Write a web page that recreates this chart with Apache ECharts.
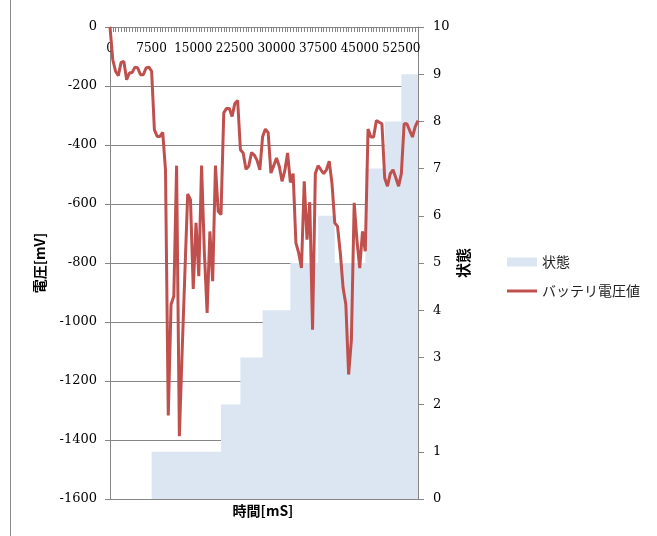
<!DOCTYPE html>
<html>
<head>
<meta charset="utf-8">
<script src="https://cdn.jsdelivr.net/npm/echarts@6.0.0/dist/echarts.min.js"></script>
<style>
html,body{margin:0;padding:0;background:#fff;}
#chart{width:657px;height:536px;}
</style>
</head>
<body>
<div id="chart"></div>
<script>
// time categories [mS]
const times = [
  0,500,1000,1500,2000,2500,3000,3500,4000,4500,
  5000,5500,6000,6500,7000,7500,8000,8500,9000,9500,
  10000,10500,11000,11500,12000,12500,13000,13500,14000,14500,
  15000,15500,16000,16500,17000,17500,18000,18500,19000,19500,
  20000,20500,21000,21500,22000,22500,23000,23500,24000,24500,
  25000,25500,26000,26500,27000,27500,28000,28500,29000,29500,
  30000,30500,31000,31500,32000,32500,33000,33500,34000,34500,
  35000,35500,36000,36500,37000,37500,38000,38500,39000,39500,
  40000,40500,41000,41500,42000,42500,43000,43500,44000,44500,
  45000,45500,46000,46500,47000,47500,48000,48500,49000,49500,
  50000,50500,51000,51500,52000,52500,53000,53500,54000,54500,
  55000,55500
];
// battery voltage [mV]
const voltage = [
  0,-111,-150,-165,-120,-117,-179,-156,-154,-136,
  -139,-162,-162,-139,-136,-150,-348,-371,-371,-357,
  -484,-1317,-941,-913,-470,-1387,-1100,-830,-566,-585,
  -888,-664,-845,-470,-763,-969,-693,-862,-470,-625,
  -636,-291,-276,-276,-303,-259,-249,-416,-427,-482,
  -472,-426,-434,-452,-484,-372,-346,-358,-495,-470,
  -444,-472,-523,-487,-427,-527,-497,-732,-766,-817,
  -523,-721,-594,-1026,-497,-470,-484,-497,-484,-455,
  -530,-664,-676,-766,-884,-941,-1178,-1060,-596,-724,
  -817,-693,-760,-346,-373,-373,-317,-323,-328,-512,
  -540,-497,-484,-511,-540,-497,-328,-328,-351,-373,
  -338,-317
];
// state
const state = [
  0,0,0,0,0,0,0,0,0,0,
  0,0,0,0,0,1,1,1,1,1,
  1,1,1,1,1,1,1,1,1,1,
  1,1,1,1,1,1,1,1,1,1,
  2,2,2,2,2,2,2,3,3,3,
  3,3,3,3,3,4,4,4,4,4,
  4,4,4,4,4,5,5,5,5,5,
  5,5,5,5,5,6,6,6,6,6,
  6,5,5,5,5,5,5,5,5,5,
  5,5,7,7,7,7,7,7,7,8,
  8,8,8,8,8,9,9,9,9,9,
  9,9
];

const serif = '"DejaVu Serif", "Liberation Serif", serif';
const jp = '"Noto Sans CJK JP", sans-serif';
const axisGray = '#868686';
const legendText = {fontFamily: jp, fontSize: 14, color: '#222'};

const chart = echarts.init(document.getElementById('chart'), null, {renderer: 'canvas'});
chart.setOption({
  animation: false,
  backgroundColor: '#ffffff',
  grid: {left: 110, top: 27, width: 308, height: 472},
  legend: [
    {
      orient: 'vertical',
      left: 502,
      top: 250,
      itemWidth: 30,
      itemHeight: 9,
      textStyle: legendText,
      data: [{name: '状態', icon: 'rect'}]
    },
    {
      orient: 'vertical',
      left: 502,
      top: 279,
      itemWidth: 30,
      itemHeight: 3,
      textStyle: legendText,
      data: [{name: 'バッテリ電圧値', icon: 'rect'}]
    }
  ],
  xAxis: {
    type: 'category',
    position: 'top',
    data: times,
    boundaryGap: false,
    axisLine: {show: true, onZero: false, lineStyle: {color: axisGray, width: 1}},
    axisTick: {show: true, inside: true, length: 5, interval: 0, lineStyle: {color: axisGray}},
    axisLabel: {inside: true, interval: 14, margin: 16, fontFamily: serif, fontSize: 12, color: '#000'},
    splitLine: {show: false}
  },
  yAxis: [
    {
      type: 'value',
      min: -1600, max: 0, interval: 200,
      name: '電圧[mV]',
      nameLocation: 'middle',
      nameGap: 63,
      nameRotate: 90,
      nameTextStyle: {fontFamily: jp, fontSize: 14, fontWeight: 'bold', color: '#000'},
      axisLine: {show: true, lineStyle: {color: axisGray}},
      axisTick: {show: true, length: 5, lineStyle: {color: axisGray}},
      axisLabel: {margin: 13, fontFamily: serif, fontSize: 13, color: '#000', formatter: function (v) { return String(v); }},
      splitLine: {show: true, lineStyle: {color: axisGray, width: 1}}
    },
    {
      type: 'value',
      position: 'right',
      min: 0, max: 10, interval: 1,
      name: '状態',
      nameLocation: 'middle',
      nameGap: 38,
      nameRotate: 90,
      nameTextStyle: {fontFamily: jp, fontSize: 15, fontWeight: 'bold', color: '#000'},
      axisLine: {show: true, lineStyle: {color: axisGray}},
      axisTick: {show: true, length: 6, lineStyle: {color: axisGray}},
      axisLabel: {margin: 15, fontFamily: serif, fontSize: 13, color: '#000'},
      splitLine: {show: false}
    }
  ],
  series: [
    {
      name: '状態',
      type: 'line',
      yAxisIndex: 1,
      data: state,
      step: 'end',
      symbol: 'none',
      lineStyle: {width: 0, opacity: 0},
      itemStyle: {color: '#dce6f2'},
      areaStyle: {color: '#dce6f2', opacity: 1},
      z: 1
    },
    {
      name: 'バッテリ電圧値',
      type: 'line',
      yAxisIndex: 0,
      data: voltage,
      symbol: 'none',
      lineStyle: {color: '#c0504d', width: 3},
      itemStyle: {color: '#c0504d'},
      z: 3
    }
  ],
  graphic: [
    {
      type: 'text',
      style: {
        text: '時間[mS]',
        x: 263, y: 511,
        align: 'center', verticalAlign: 'middle',
        fontFamily: jp, fontSize: 14, fontWeight: 'bold', fill: '#000'
      }
    },
    {
      type: 'line',
      shape: {x1: 10.5, y1: 0, x2: 10.5, y2: 536},
      style: {stroke: '#8a8a8a', lineWidth: 1}
    }
  ]
});
</script>
</body>
</html>
